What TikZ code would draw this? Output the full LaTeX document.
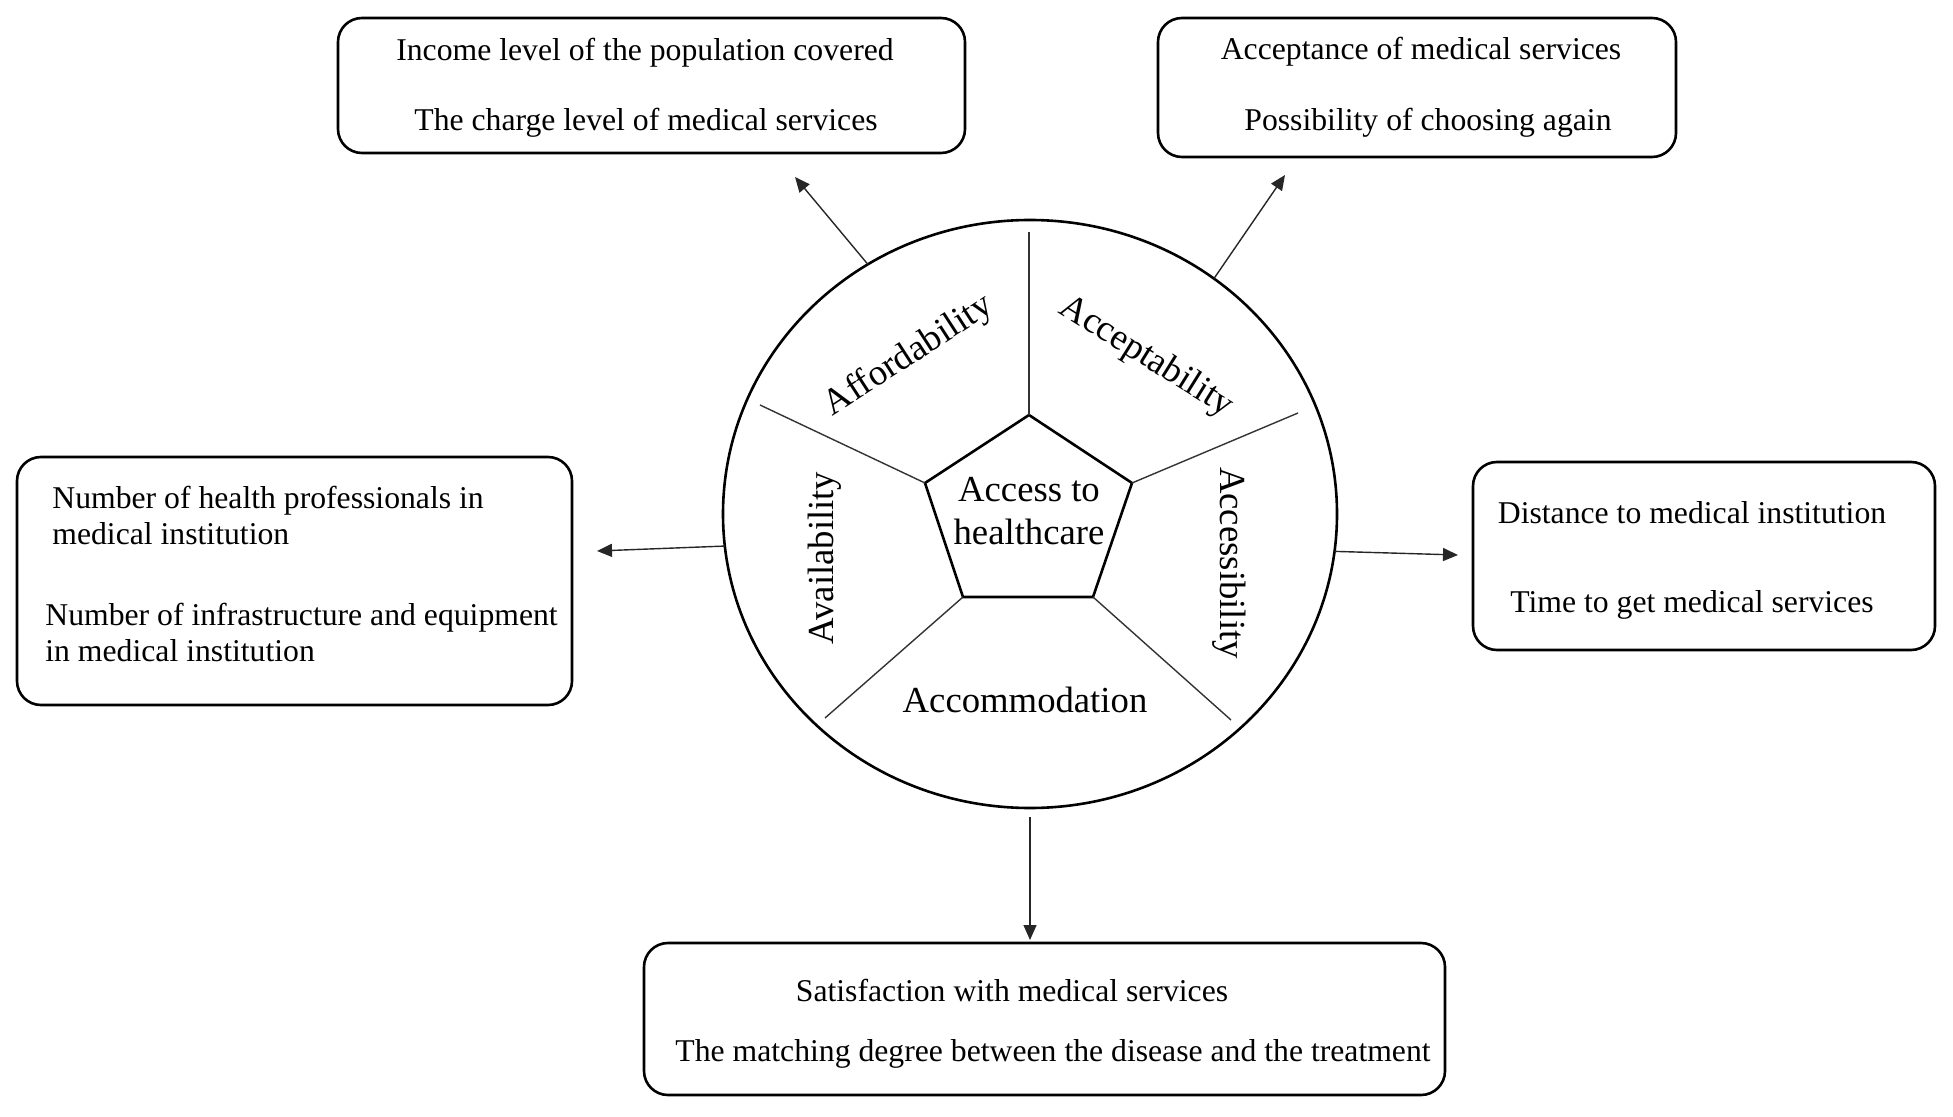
\documentclass[tikz,border=0pt]{standalone}
\usepackage{fontspec}
\setmainfont{Liberation Serif}
\usetikzlibrary{arrows.meta,shapes.geometric,fit}
\begin{document}
\begin{tikzpicture}[x=0.5pt,y=-0.5pt,
  box/.style={draw,line width=1.3pt,rounded corners=12pt,inner sep=0pt,outer sep=0pt},
  btxt/.style={font=\fontsize{15.85}{18}\selectfont,inner sep=0pt},
  ctxt/.style={font=\fontsize{18.35}{21.5}\selectfont,inner sep=0pt},
  spoke/.style={line width=0.7pt,black!80},
  arr/.style={line width=0.7pt,black!85,-{Triangle[length=7.5pt,width=6.5pt]}},
]
\useasboundingbox (0,0) rectangle (1953,1117);

% outer boxes
\node[box,fit={(338,18) (965,153)}] (b1) {};
\node[box,fit={(1158,18) (1676,157)}] (b2) {};
\node[box,fit={(17,457) (572,705)}] (b3) {};
\node[box,fit={(1473,462) (1935,650)}] (b4) {};
\node[box,fit={(644,943) (1445,1095)}] (b5) {};

% box texts
\node[btxt] (t11) at (645,53) {Income level of the population covered};
\node[btxt] (t12) at (646,123) {The charge level of medical services};
\node[btxt] (t21) at (1421,52) {Acceptance of medical services};
\node[btxt] (t22) at (1428,123) {Possibility of choosing again};
\node[btxt,anchor=west,align=left] (t31) at (52,515) {Number of health professionals in\\medical institution};
\node[btxt,anchor=west,align=left] (t32) at (45,632) {Number of infrastructure and equipment\\in medical institution};
\node[btxt] (t41) at (1692,513) {Distance to medical institution};
\node[btxt] (t42) at (1692,605) {Time to get medical services};
\node[btxt] (t51) at (1012,990) {Satisfaction with medical services};
\node[btxt] (t52) at (1053,1054) {The matching degree between the disease and the treatment};

% wheel
\node[draw,ellipse,line width=1.3pt,minimum width=307pt,minimum height=294pt,inner sep=0pt,outer sep=0pt] (circ) at (1030,514) {};

\coordinate (p1) at (1029,415);
\coordinate (p2) at (1132,483);
\coordinate (p3) at (1093,597);
\coordinate (p4) at (963,597);
\coordinate (p5) at (925,483);
\draw[line width=1.3pt,line join=miter] (p1) -- (p2) -- (p3) -- (p4) -- (p5) -- cycle;

\coordinate (s1) at (1029,232);
\coordinate (s2) at (1298,413);
\coordinate (s3) at (1231,720);
\coordinate (s4) at (825,718);
\coordinate (s5) at (760,405);
\draw[spoke] (p1) -- (s1);
\draw[spoke] (p2) -- (s2);
\draw[spoke] (p3) -- (s3);
\draw[spoke] (p4) -- (s4);
\draw[spoke] (p5) -- (s5);

\node[ctxt,align=center] (core) at (1029,511) {Access to\\healthcare};
\node[ctxt,rotate=33] (aff) at (909,356) {Affordability};
\node[ctxt,rotate=-32] (acp) at (1146,357) {Acceptability};
\node[ctxt,rotate=90] (ava) at (825,558) {Availability};
\node[ctxt,rotate=-90] (acs) at (1229,563) {Accessibility};
\node[ctxt] (acm) at (1025,700) {Accommodation};

% arrows
\coordinate (e1) at (795,177);
\coordinate (e2) at (1285,175);
\coordinate (e3) at (597,551);
\coordinate (e4) at (1458,555);
\coordinate (e5) at (1030,940);
\draw[arr] (circ.123) -- (e1);
\draw[arr] (circ.52) -- (e2);
\draw[arr] (circ.186.7) -- (e3);
\draw[arr] (circ.353) -- (e4);
\draw[arr,shorten <=4.5pt] (circ.south) -- (e5);
\end{tikzpicture}
\end{document}
